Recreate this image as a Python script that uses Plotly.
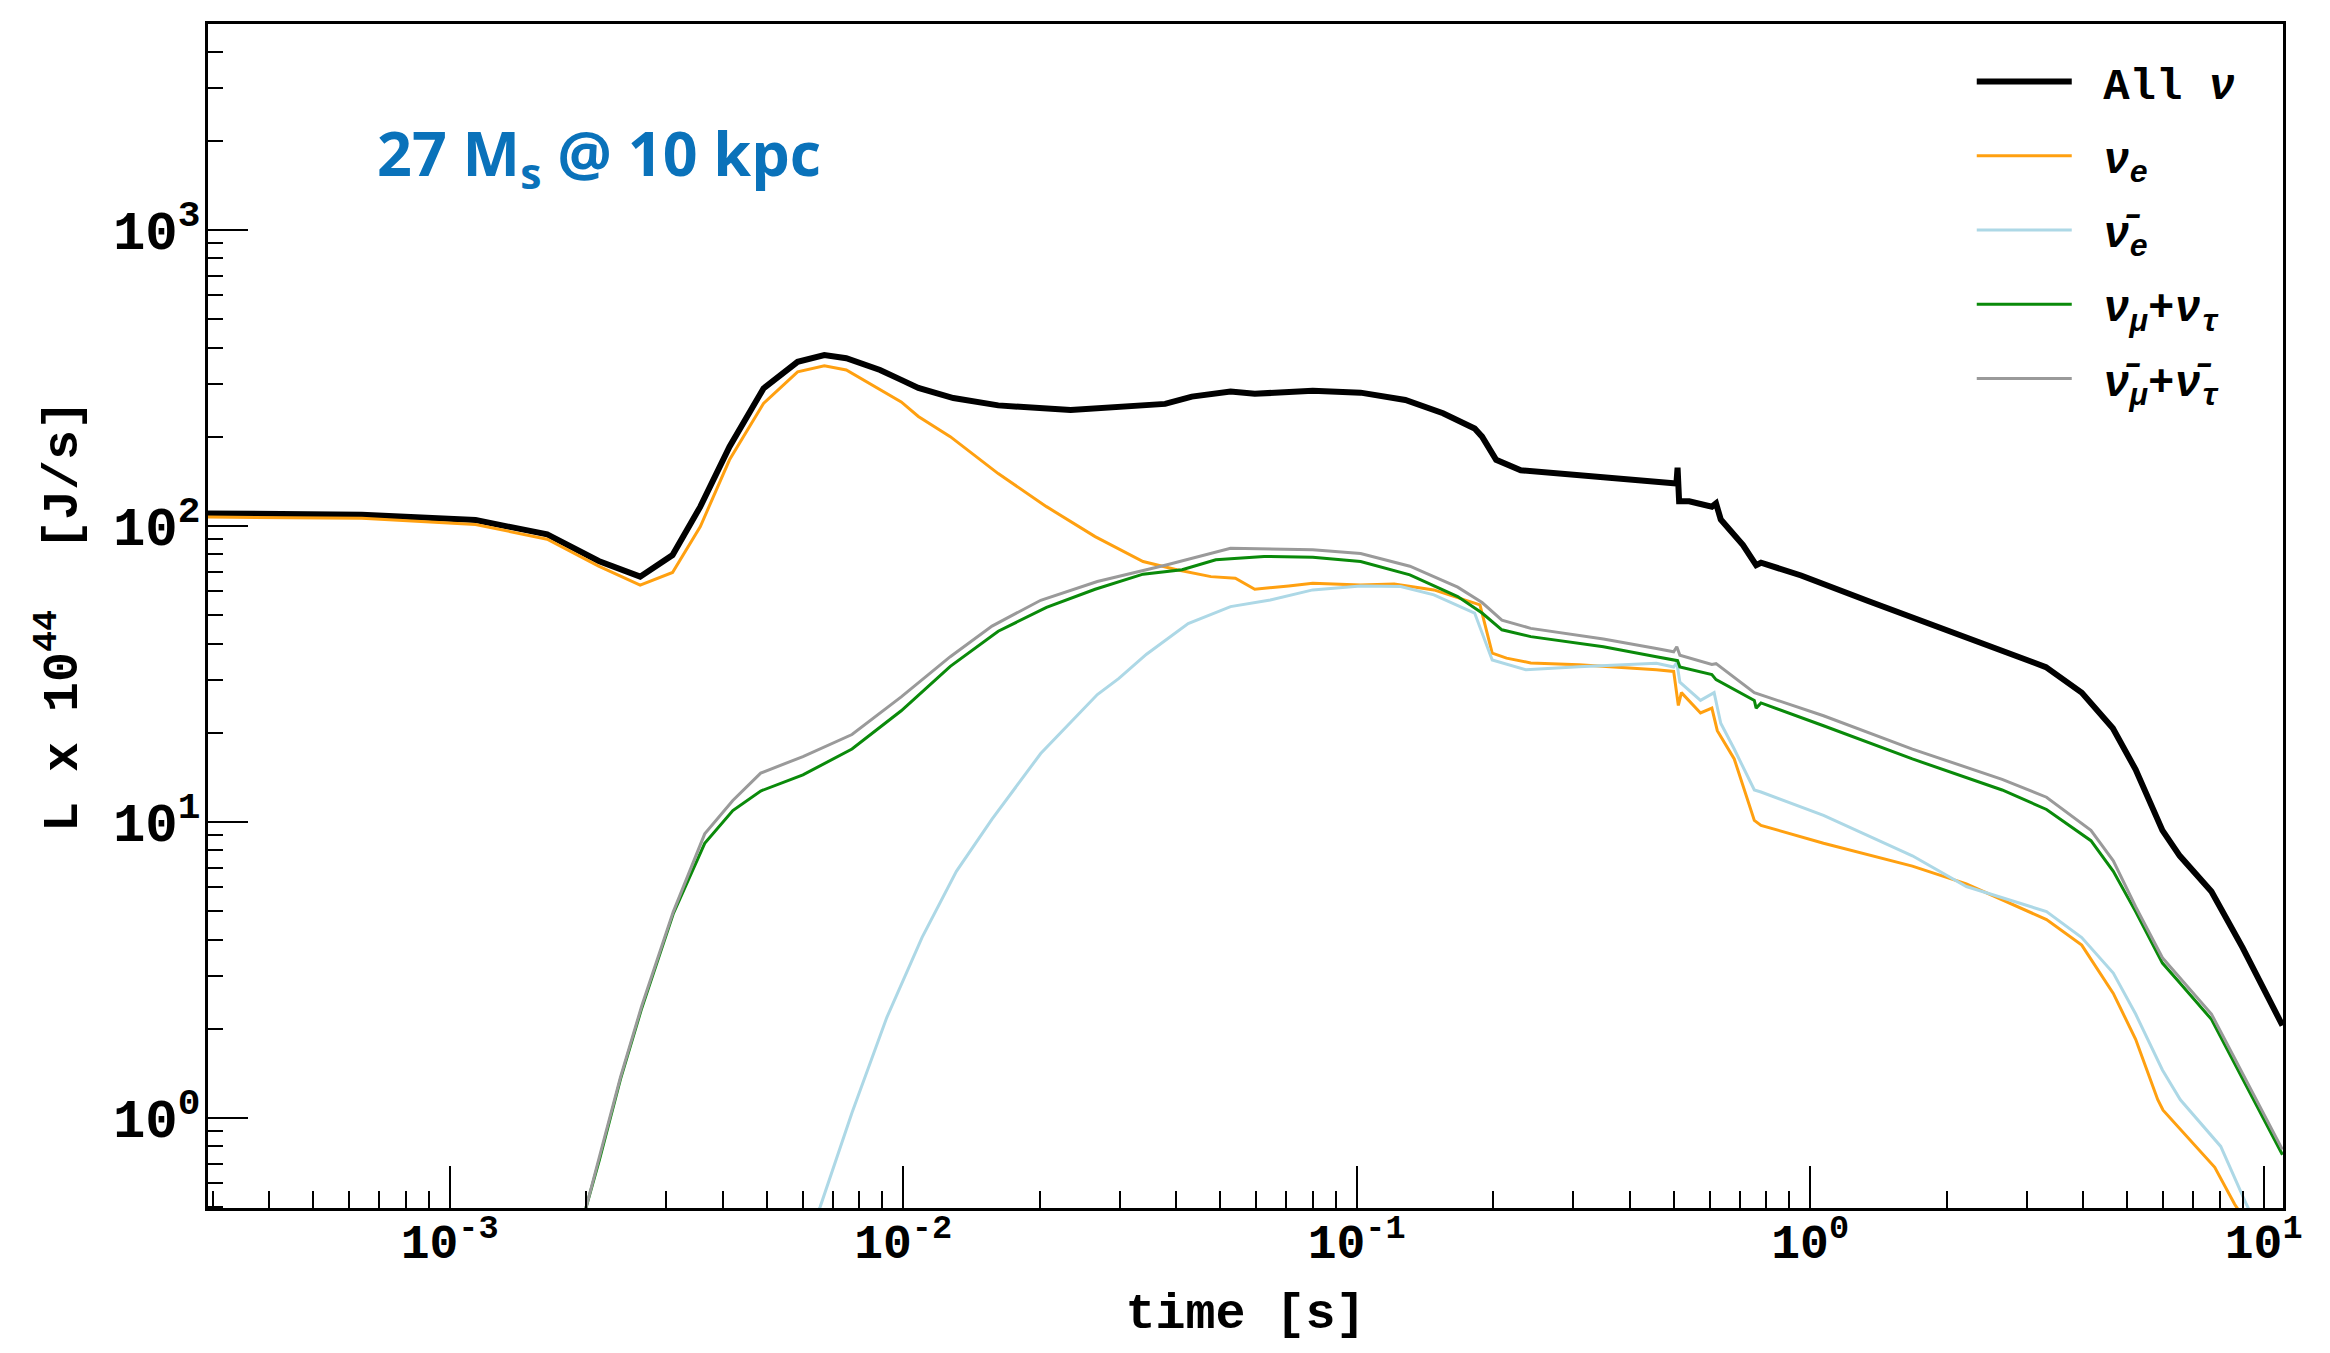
import plotly.graph_objects as go

# Time axis [s] and luminosities [10^44 J/s] for each neutrino flavour
t_all = [2.9e-4, 6.4e-4, 1.14e-3, 1.64e-3, 2.13e-3, 2.63e-3, 3.10e-3, 3.57e-3, 4.14e-3,
         4.92e-3, 5.85e-3, 6.70e-3, 7.49e-3, 8.89e-3, 9.9e-3, 1.08e-2, 1.29e-2, 1.62e-2,
         2.34e-2, 2.99e-2, 3.78e-2, 4.33e-2, 5.27e-2, 5.96e-2, 8.0e-2, 0.102, 0.128, 0.155,
         0.182, 0.189, 0.203, 0.230, 0.309, 0.458, 0.500, 0.507, 0.510, 0.514, 0.541, 0.607,
         0.620, 0.635, 0.711, 0.760, 0.779, 0.955, 1.342, 2.11, 3.31, 3.97, 4.65, 5.22,
         5.98, 6.53, 7.67, 8.99, 11.0]
L_all = [110, 109, 104.5, 93.5, 76, 67.3, 79.6, 116, 185,
         291, 358, 377, 368, 336, 311, 292, 270, 255,
         246, 251, 258, 273, 284, 279, 286, 281.6, 266, 240,
         213, 200, 167, 154, 148.5, 141, 139, 139, 157, 121, 121, 116,
         119, 105, 86, 73.6, 75, 67.9, 55.7, 43, 33.3, 27.3, 20.7, 15,
         9.35, 7.67, 5.81, 3.75, 2.05]

t_nue = [2.9e-4, 6.4e-4, 1.14e-3, 1.64e-3, 2.13e-3, 2.63e-3, 3.10e-3, 3.57e-3, 4.14e-3,
         4.92e-3, 5.85e-3, 6.70e-3, 7.49e-3, 8.89e-3, 9.9e-3, 1.08e-2, 1.27e-2, 1.62e-2,
         2.07e-2, 2.65e-2, 3.38e-2, 4.01e-2, 4.77e-2, 5.40e-2, 5.96e-2, 7.08e-2, 8.0e-2,
         0.102, 0.121, 0.148, 0.187, 0.199, 0.214, 0.242, 0.309, 0.458, 0.500, 0.512,
         0.520, 0.573, 0.607, 0.624, 0.680, 0.753, 0.779, 1.07, 1.68, 2.21, 3.32, 3.97,
         4.66, 5.22, 5.84, 6.0, 7.8, 8.63, 9.2]
L_nue = [107, 106, 101, 90, 73, 63, 69.5, 99.4, 167,
         259, 331, 347, 336, 288, 262, 234, 200, 150,
         116, 91.9, 75.7, 71, 67.3, 66.5, 61, 62.6, 63.9,
         63.1, 63.6, 60.7, 54, 37.1, 35.7, 34.4, 33.9, 32.6, 32.2, 24.7,
         27.3, 23.3, 24.2, 20.3, 16.3, 10.1, 9.72, 8.46, 7.08, 6.17, 4.67, 3.83,
         2.63, 1.84, 1.15, 1.06, 0.68, 0.51, 0.44]

t_nuebar = [6.3e-3, 6.56e-3, 7.71e-3, 9.2e-3, 1.10e-2, 1.31e-2, 1.57e-2, 2.01e-2, 2.68e-2,
            2.99e-2, 3.44e-2, 4.25e-2, 5.27e-2, 6.45e-2, 8.0e-2, 0.102, 0.125, 0.148, 0.182,
            0.199, 0.236, 0.309, 0.458, 0.500, 0.508, 0.516, 0.573, 0.614, 0.635, 0.680,
            0.753, 0.779, 1.07, 1.68, 2.21, 3.32, 3.97, 4.66, 5.22, 5.98, 6.55, 8.04, 9.16, 9.6]
L_nuebar = [0.44, 0.5, 1.04, 2.18, 4.06, 6.8, 10.2, 17, 26.9,
            30.5, 36.8, 46.7, 53.3, 56.1, 60.7, 62.6, 62.3, 58.4, 50.7,
            35.2, 32.6, 33.4, 34.3, 33.3, 34.5, 29.6, 25.7, 27.3, 21.5, 17.6,
            12.8, 12.6, 10.5, 7.67, 6.04, 4.97, 4.06, 3.08, 2.24, 1.45, 1.15, 0.80, 0.51, 0.44]

t_numu = [1.97e-3, 2.0e-3, 2.14e-3, 2.38e-3, 2.65e-3, 3.11e-3, 3.65e-3, 4.21e-3, 4.85e-3,
          6.01e-3, 7.71e-3, 9.9e-3, 1.27e-2, 1.62e-2, 2.07e-2, 2.65e-2, 3.38e-2, 4.12e-2,
          4.89e-2, 6.25e-2, 8.0e-2, 0.102, 0.131, 0.167, 0.189, 0.209, 0.242, 0.350, 0.458,
          0.500, 0.510, 0.516, 0.607, 0.620, 0.753, 0.760, 0.779, 1.07, 1.68, 2.65, 3.32,
          4.16, 4.66, 5.22, 5.98, 6.55, 7.67, 11.0]
L_numu = [0.45, 0.5, 0.724, 1.35, 2.34, 4.88, 8.45, 10.9, 12.7,
          14.4, 17.6, 23.7, 33.5, 44.0, 53.0, 61.0, 68.6, 71,
          76.7, 78.7, 78.3, 75.7, 68.2, 57.6, 50.7, 44.5, 42.2, 39, 36.1,
          35.3, 35.0, 33.3, 31.4, 30.2, 25.7, 24.2, 25.2, 21.1, 16.3, 12.8, 11,
          8.63, 6.8, 4.97, 3.33, 2.84, 2.15, 0.75]

t_numubar = [1.97e-3, 2.0e-3, 2.14e-3, 2.38e-3, 2.65e-3, 3.11e-3, 3.65e-3, 4.21e-3, 4.85e-3,
             6.01e-3, 7.71e-3, 9.9e-3, 1.27e-2, 1.57e-2, 2.01e-2, 2.68e-2, 3.82e-2, 5.27e-2,
             8.0e-2, 0.102, 0.131, 0.167, 0.189, 0.209, 0.242, 0.350, 0.458, 0.500, 0.508,
             0.516, 0.607, 0.620, 0.753, 1.07, 1.68, 2.65, 3.32, 4.16, 4.66, 5.22, 5.98,
             7.67, 11.0]
L_numubar = [0.45, 0.5, 0.74, 1.37, 2.38, 4.95, 9.1, 11.8, 14.6,
             16.6, 19.7, 26.4, 36.1, 45.8, 56, 64.8, 73.8, 83.9,
             83, 80.5, 73, 62, 55, 48, 45, 41.4, 38.5, 37.5, 39,
             36.5, 34, 34.2, 27.3, 22.8, 17.6, 13.9, 12.1, 9.35, 7.38, 5.16, 3.47,
             2.24, 0.78]

# Decade ticks and their labels
x_tickvals = [1e-3, 1e-2, 1e-1, 1, 10]
x_ticktext = ["10<sup>-3</sup>", "10<sup>-2</sup>", "10<sup>-1</sup>", "10<sup>0</sup>", "10<sup>1</sup>"]
y_tickvals = [1, 10, 100, 1000]
y_ticktext = ["10<sup>0</sup>", "10<sup>1</sup>", "10<sup>2</sup>", "10<sup>3</sup>"]

NB = "\u00a0"
names = [NB + "All <i>ν</i>", NB + "<i>ν<sub>e</sub></i>", NB + "<i>ν̄<sub>e</sub></i>",
         NB + "<i>ν<sub>μ</sub>+ν<sub>τ</sub></i>", NB + "<i>ν̄<sub>μ</sub>+ν̄<sub>τ</sub></i>"]
colors = ["black", "#FFA010", "#ADD8E6", "#0A8A0A", "#9A9A9A"]
widths = [6, 3, 3, 3, 3]
times = [t_all, t_nue, t_nuebar, t_numu, t_numubar]
lums = [L_all, L_nue, L_nuebar, L_numu, L_numubar]

MONO = "Liberation Mono, Courier New, monospace"

fig = go.Figure()
for i in range(len(names)):
    fig.add_trace(go.Scatter(
        x=times[i], y=lums[i], mode="lines", name=names[i],
        legendgroup=f"g{i}",
        line=dict(color=colors[i], width=widths[i]),
    ))

axis_common = dict(
    type="log", showline=True, linecolor="black", linewidth=2.5, mirror=True,
    ticks="inside", tickwidth=2, tickcolor="black", tickmode="array",
    showgrid=False, zeroline=False,
    minor=dict(ticks="inside", tickwidth=2, tickcolor="black", dtick="D1", showgrid=False),
)

fig.update_layout(
    width=2330, height=1353,
    margin=dict(l=208, r=47, t=24, b=145),
    paper_bgcolor="white", plot_bgcolor="white",
    showlegend=True,
    legend=dict(
        x=0.85, y=0.981, xanchor="left", yanchor="top",
        font=dict(family=MONO, size=44, color="black", weight="bold"),
        bgcolor="rgba(0,0,0,0)", itemwidth=95, tracegroupgap=14,
        traceorder="grouped",
    ),
    xaxis=dict(
        **axis_common, range=[-3.533, 1.0426], ticklen=42,
        tickvals=x_tickvals, ticktext=x_ticktext, ticklabelstandoff=-10,
        tickfont=dict(family=MONO, size=48, color="black", weight="bold"),
        title=dict(text="time [s]", standoff=22,
                   font=dict(family=MONO, size=50, color="black", weight="bold")),
    ),
    yaxis=dict(
        **axis_common, range=[-0.305, 3.695], ticklen=40,
        tickvals=y_tickvals, ticktext=y_ticktext, ticklabelstandoff=-6,
        tickfont=dict(family=MONO, size=54, color="black", weight="bold"),
        title=dict(text="L x 10<sup>44</sup>  [J/s]", standoff=20,
                   font=dict(family=MONO, size=50, color="black", weight="bold")),
    ),
)
fig.update_xaxes(minor_ticklen=17)
fig.update_yaxes(minor_ticklen=15)

fig.add_annotation(
    text="27 M<sub>s</sub> @ 10 kpc", xref="paper", yref="paper",
    x=0.0805, y=0.888, xanchor="left", yanchor="middle", showarrow=False,
    font=dict(family="Open Sans", size=61, color="#0A72BA", weight="bold"),
)

fig.write_html("out.html")
